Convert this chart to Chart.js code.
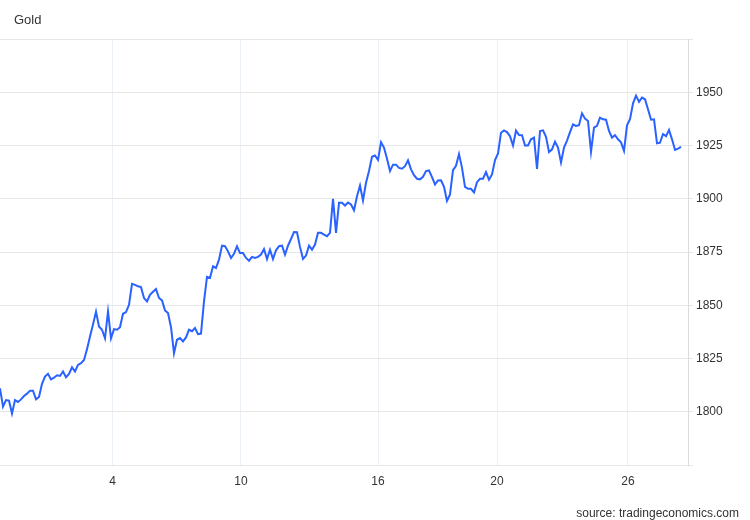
<!DOCTYPE html>
<html>
<head>
<meta charset="utf-8">
<script src="https://cdn.jsdelivr.net/npm/chart.js@4.4.1/dist/chart.umd.min.js"></script>
<style>
    body { margin: 0; background: #fff; font-family: Arial, "Liberation Sans", sans-serif; }
    #wrap { position: relative; width: 750px; height: 520px; }
    #title { position: absolute; left: 14px; top: 12px; font-size: 13px; line-height: 16px; color: #333; }
    #source { position: absolute; right: 11px; top: 505px; font-size: 12px; line-height: 16px; color: #333; }
</style>
</head>
<body>
<div id="wrap">
    <canvas id="gold-chart" width="750" height="520"></canvas>
    <div id="title">Gold</div>
    <div id="source">source: tradingeconomics.com</div>
</div>
<script>
// Gold price, sampled along the month (one value per step)
const goldPrices = [
    1811.0, 1802.4, 1805.5, 1805.2, 1799.2, 1805.5, 1804.6, 1805.8, 1807.4, 1808.5,
    1809.9, 1809.9, 1805.8, 1806.9, 1813.1, 1816.5, 1817.8, 1815.2, 1816.0, 1817.1,
    1816.8, 1818.9, 1816.2, 1817.8, 1820.9, 1818.9, 1822.0, 1822.8, 1824.3, 1829.4,
    1835.3, 1841.0, 1847.0, 1840.0, 1838.5, 1834.5, 1847.1, 1834.5, 1838.8, 1838.5,
    1839.7, 1846.0, 1846.8, 1850.2, 1860.1, 1859.6, 1858.9, 1858.5, 1853.4, 1851.8,
    1854.9, 1856.3, 1857.6, 1853.4, 1852.3, 1847.6, 1846.3,
    1839.7, 1827.5, 1833.8, 1834.6, 1833.0, 1834.9, 1838.5, 1837.8, 1839.3, 1836.4,
    1836.7, 1851.8, 1863.3, 1862.8, 1868.3, 1867.5, 1871.4, 1878.0, 1877.7, 1875.3,
    1872.2, 1874.2, 1877.7, 1874.5, 1874.5, 1872.2, 1870.9, 1872.7, 1872.2, 1872.7,
    1873.8, 1876.4, 1871.7, 1876.1, 1871.7, 1875.8, 1877.7, 1878.0, 1873.8, 1878.0,
    1881.1, 1884.4, 1884.3, 1877.4, 1871.7, 1873.3, 1878.0, 1876.1, 1878.5, 1884.0,
    1884.0, 1883.2, 1882.4, 1884.0, 1900.0, 1884.0, 1898.1,
    1898.1, 1896.8, 1898.2, 1897.3, 1894.6, 1901.2, 1906.2, 1899.2, 1907.5, 1913.0,
    1919.7, 1920.3, 1918.2, 1926.5, 1924.0, 1918.8, 1913.0, 1916.0, 1916.0, 1914.5,
    1914.1, 1915.3, 1918.0, 1913.8, 1911.1, 1909.4, 1909.1, 1910.3, 1913.0, 1913.3,
    1910.2, 1906.7, 1908.6, 1908.7, 1905.6, 1899.0, 1902.0, 1913.4, 1915.5, 1921.0,
    1914.5, 1905.6, 1904.7, 1904.7, 1903.0, 1907.8, 1909.4, 1909.4, 1912.5, 1908.9,
    1911.4, 1918.2, 1921.3, 1931.0, 1932.1, 1931.3,
    1929.4, 1925.0, 1932.0, 1929.9, 1929.8, 1925.0, 1925.0, 1927.9, 1928.7, 1914.0,
    1931.8, 1932.1, 1929.1, 1921.9, 1923.2, 1926.8, 1924.0, 1917.0, 1924.0, 1927.3,
    1931.3, 1934.9, 1934.2, 1934.5, 1940.1, 1937.6, 1936.5, 1922.0, 1933.4, 1934.2,
    1938.1, 1937.3, 1937.1, 1931.8, 1928.7, 1929.8, 1927.9, 1926.5, 1922.5, 1934.5,
    1937.3, 1944.8, 1948.4, 1945.5, 1947.5, 1946.7, 1942.0, 1937.1, 1937.3, 1926.0,
    1926.3, 1930.4, 1929.4, 1932.3, 1927.9, 1922.9, 1923.5, 1924.3
];

// Day-of-month labels and the sample step where each one falls
const dayLabels = ['4', '10', '16', '20', '26'];
const dayTickSteps = [37.57, 80.33, 126, 165.67, 209.33];

// Price axis range and ticks
const priceMin = 1775;
const priceMax = 1975;
const priceStep = 25;

document.addEventListener('DOMContentLoaded', function() {
    const ctx = document.getElementById('gold-chart');
    const points = goldPrices.map((v, i) => ({ x: i, y: v }));
    const font = { family: 'Arial, "Liberation Sans", sans-serif', size: 12 };

    new Chart(ctx, {
        type: 'line',
        data: {
            datasets: [{
                data: points,
                borderColor: '#2962ff',
                borderWidth: 2,
                pointRadius: 0,
                tension: 0,
                fill: false
            }]
        },
        options: {
            responsive: false,
            animation: false,
            layout: { padding: { top: 39, left: 0, right: 0, bottom: 0 } },
            plugins: {
                legend: { display: false },
                tooltip: { enabled: false }
            },
            scales: {
                x: {
                    type: 'linear',
                    min: 0,
                    max: 229.33,
                    border: { display: false },
                    grid: { color: '#eaf0f6', drawTicks: false },
                    ticks: {
                        color: '#333',
                        font: font,
                        padding: 9,
                        maxRotation: 0,
                        callback: function(value, index) {
                            return dayLabels[index];
                        }
                    },
                    afterBuildTicks: function(scale) {
                        scale.ticks = dayTickSteps.map(v => ({ value: v }));
                    },
                    afterFit: function(scale) {
                        scale.height = 55;
                        scale.paddingLeft = 0;
                        scale.paddingRight = 0;
                    }
                },
                y: {
                    position: 'right',
                    min: priceMin,
                    max: priceMax,
                    border: { display: true, color: '#dcdcdc' },
                    grid: { color: '#e6e6e6', tickLength: 5 },
                    ticks: {
                        stepSize: priceStep,
                        color: '#333',
                        font: font,
                        padding: 3,
                        callback: function(value) {
                            return (value === priceMin || value === priceMax) ? '' : value;
                        }
                    },
                    afterFit: function(scale) {
                        scale.width = 62;
                        scale.paddingTop = 0;
                        scale.paddingBottom = 0;
                    }
                }
            }
        }
    });
});
</script>
</body>
</html>
